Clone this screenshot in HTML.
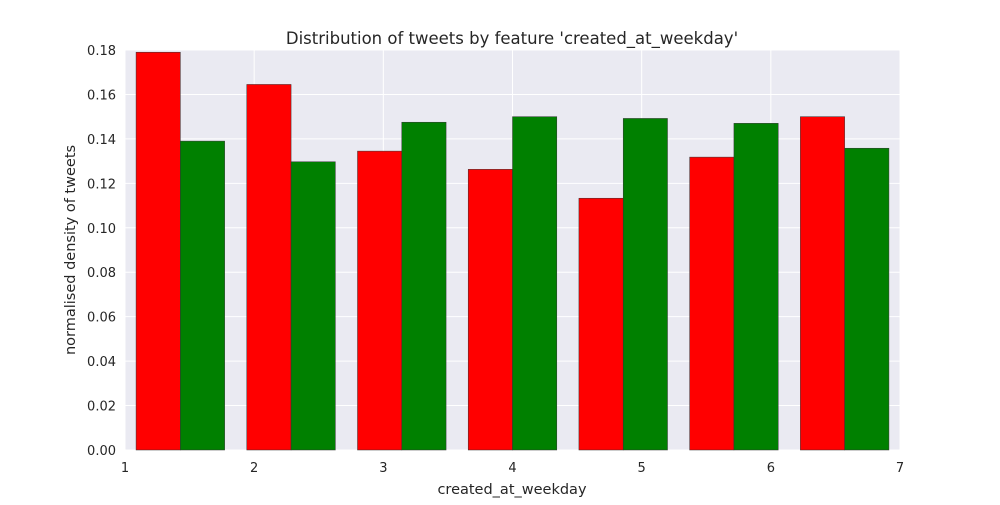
<!DOCTYPE html>
<html><head><meta charset="utf-8"><style>
body{margin:0;background:#fff;}
svg text{font-family:"DejaVu Sans","Liberation Sans",sans-serif;fill:#262626;}
</style></head><body>
<svg id="chart" width="1000" height="500">
<rect x="125" y="50" width="775" height="400" fill="#eaeaf2"/>
<g id="grid"></g><g id="bars"></g><g id="ticks"></g>
<text x="512" y="44" text-anchor="middle" font-size="16.5">Distribution of tweets by feature 'created_at_weekday'</text>
<text x="512" y="494" text-anchor="middle" font-size="14.5">created_at_weekday</text>
<text transform="translate(75,250) rotate(-90)" text-anchor="middle" font-size="14.5">normalised density of tweets</text>
</svg>
<script>
const xTicks=[1,2,3,4,5,6,7];
const yTicks=[0,0.02,0.04,0.06,0.08,0.10,0.12,0.14,0.16,0.18];
const redValues=[0.179,0.1645,0.1345,0.1263,0.1133,0.1318,0.150];
const greenValues=[0.139,0.1297,0.1475,0.150,0.1492,0.147,0.1358];
const NS="http://www.w3.org/2000/svg";
const X=v=>125+(v-1)*775/6, Y=v=>450-v*400/0.18;
function mk(t,a,p){const e=document.createElementNS(NS,t);for(const k in a)e.setAttribute(k,a[k]);p.appendChild(e);return e;}
const g=document.getElementById('grid'),b=document.getElementById('bars'),tk=document.getElementById('ticks');
xTicks.forEach(v=>{
 const l=mk('line',{x1:X(v),x2:X(v),y1:50,y2:450,stroke:'#fff','stroke-width':1},g);
 
 
 const t=mk('text',{x:X(v),y:472,'text-anchor':'middle','font-size':13},tk);t.textContent=v;
 
 
});
yTicks.forEach(v=>{
 const l=mk('line',{x1:125,x2:900,y1:Y(v),y2:Y(v),stroke:'#fff','stroke-width':1},g);
 
 
 const t=mk('text',{x:116,y:Y(v)+5,'text-anchor':'end','font-size':13},tk);t.textContent=v.toFixed(2);
 
 
});
const bw=6/7;
redValues.forEach((v,i)=>{
 const x0=1+i*bw+0.1*bw;
 const r=mk('rect',{x:X(x0),y:Y(v),width:X(1+0.4*bw)-X(1),height:Y(0)-Y(v),fill:'#ff0000',stroke:'#333','stroke-width':0.5},b);
 
 
 const gv=greenValues[i];
 const r2=mk('rect',{x:X(x0+0.4*bw),y:Y(gv),width:X(1+0.4*bw)-X(1),height:Y(0)-Y(gv),fill:'#008000',stroke:'#333','stroke-width':0.5},b);
 
 
});
</script>
</body></html>
